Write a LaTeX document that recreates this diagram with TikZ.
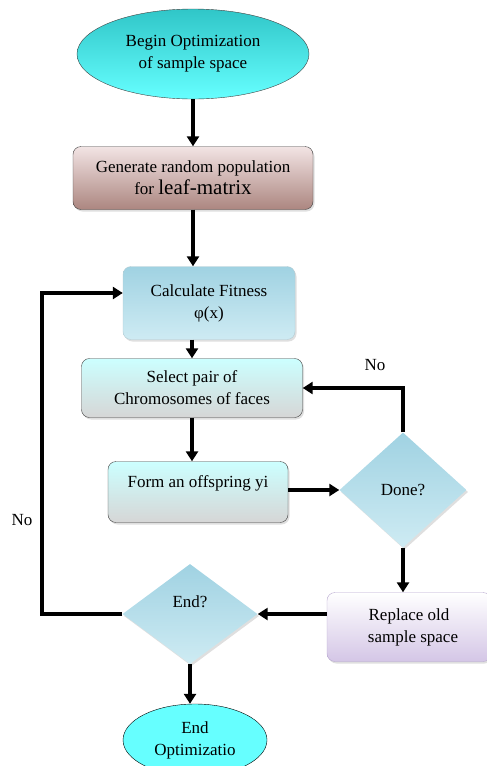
\documentclass[tikz,border=0pt]{standalone}
\usepackage{fontspec}
\setmainfont{Liberation Serif}
\usetikzlibrary{shapes.geometric,arrows.meta,shadows}
\definecolor{cyan-top}{RGB}{48,198,200}
\definecolor{cyan-bot}{RGB}{102,255,255}
\definecolor{rose-top}{RGB}{242,228,228}
\definecolor{rose-bot}{RGB}{172,134,128}
\definecolor{sky-top}{RGB}{160,210,226}
\definecolor{sky-bot}{RGB}{206,235,243}
\definecolor{aqua-top}{RGB}{204,255,255}
\definecolor{aqua-bot}{RGB}{214,214,214}
\definecolor{lilac-bot}{RGB}{212,198,230}
\definecolor{lilac-line}{RGB}{182,166,206}
\definecolor{box-line}{RGB}{64,64,64}
\tikzset{
    flow-text/.style = {font=\fontsize{17}{22}\selectfont, align=center},
    term-ellipse/.style = {ellipse, draw=box-line, thin, flow-text, inner sep=0pt},
    flow-box/.style = {rectangle, rounded corners=8pt, thin, flow-text, inner sep=0pt,
        drop shadow={shadow xshift=1.5pt, shadow yshift=-2pt, opacity=0.25}},
    test-diamond/.style = {diamond, flow-text, inner sep=0pt, top color=sky-top, bottom color=sky-bot,
        drop shadow={shadow xshift=1.5pt, shadow yshift=-2pt, opacity=0.25}},
    flow-arrow/.style = {line width=3.5pt, -{Triangle[length=10pt,width=12pt]}},
}

\begin{document}
\begin{tikzpicture}[x=1pt, y=-1pt]
\useasboundingbox (0,0) rectangle (487,766);

% terminals and steps
\node [term-ellipse, top color=cyan-top, bottom color=cyan-bot, minimum width=232pt, minimum height=90pt] (begin) at (193,54) {Begin Optimization\\of sample space};
\node [flow-box, draw=box-line, top color=rose-top, bottom color=rose-bot, minimum width=240pt, minimum height=63pt] (generate) at (193,178) {Generate random population\\for {\fontsize{21}{22}\selectfont leaf-matrix}};
\node [flow-box, draw=sky-top!80!black!60, top color=sky-top, bottom color=sky-bot, minimum width=172pt, minimum height=73pt] (fitness) at (209,303) {Calculate Fitness\\φ(x)};
\node [flow-box, draw=box-line, top color=aqua-top, bottom color=aqua-bot, minimum width=221pt, minimum height=59pt] (select) at (192,388) {Select pair of\\Chromosomes of faces};
\node [flow-box, draw=box-line, top color=aqua-top, bottom color=aqua-bot, minimum width=180pt, minimum height=61pt] (offspring) at (198,492) {\raisebox{9pt}[\height][\depth]{Form an offspring yi}};
\node [test-diamond, minimum width=127pt, minimum height=115pt] (done) at (403,490) {Done?};
\node [flow-box, draw=lilac-line, top color=white, bottom color=lilac-bot, minimum width=164pt, minimum height=69pt] (replace) at (409,627) {Replace old\\\hspace{8pt}sample space};
\node [test-diamond, minimum width=135pt, minimum height=100pt] (endtest) at (190,614) {\raisebox{12pt}[\height][\depth]{End?}};
\node [term-ellipse, draw=black, fill=cyan-bot, minimum width=144pt, minimum height=72pt] (finish) at (195,740) {End\\Optimizatio};

% connectors
\draw [flow-arrow] (begin) -- (generate);
\draw [flow-arrow] (generate) -- (generate |- fitness.north);
\draw [flow-arrow] (select.north |- fitness.south) -- (select.north);
\draw [flow-arrow] (select) -- (select |- offspring.north);
\draw [flow-arrow] (offspring.east |- done.west) -- (done.west);
\draw [flow-arrow] (done.north) |- (select.east);
\draw [flow-arrow] (done.south) -- (done.south |- replace.north);
\draw [flow-arrow] (replace.west |- endtest.east) -- (endtest.east);
\coordinate (loop) at (42,293);
\draw [flow-arrow] (endtest.west) -| (loop) -- (loop -| fitness.west);
\draw [flow-arrow] (endtest.south) -- (endtest.south |- finish.north);

% labels
\node [flow-text] (no-done) at (375,365) {No};
\node [flow-text] (no-end) at (22,520) {No};
\end{tikzpicture}
\end{document}
